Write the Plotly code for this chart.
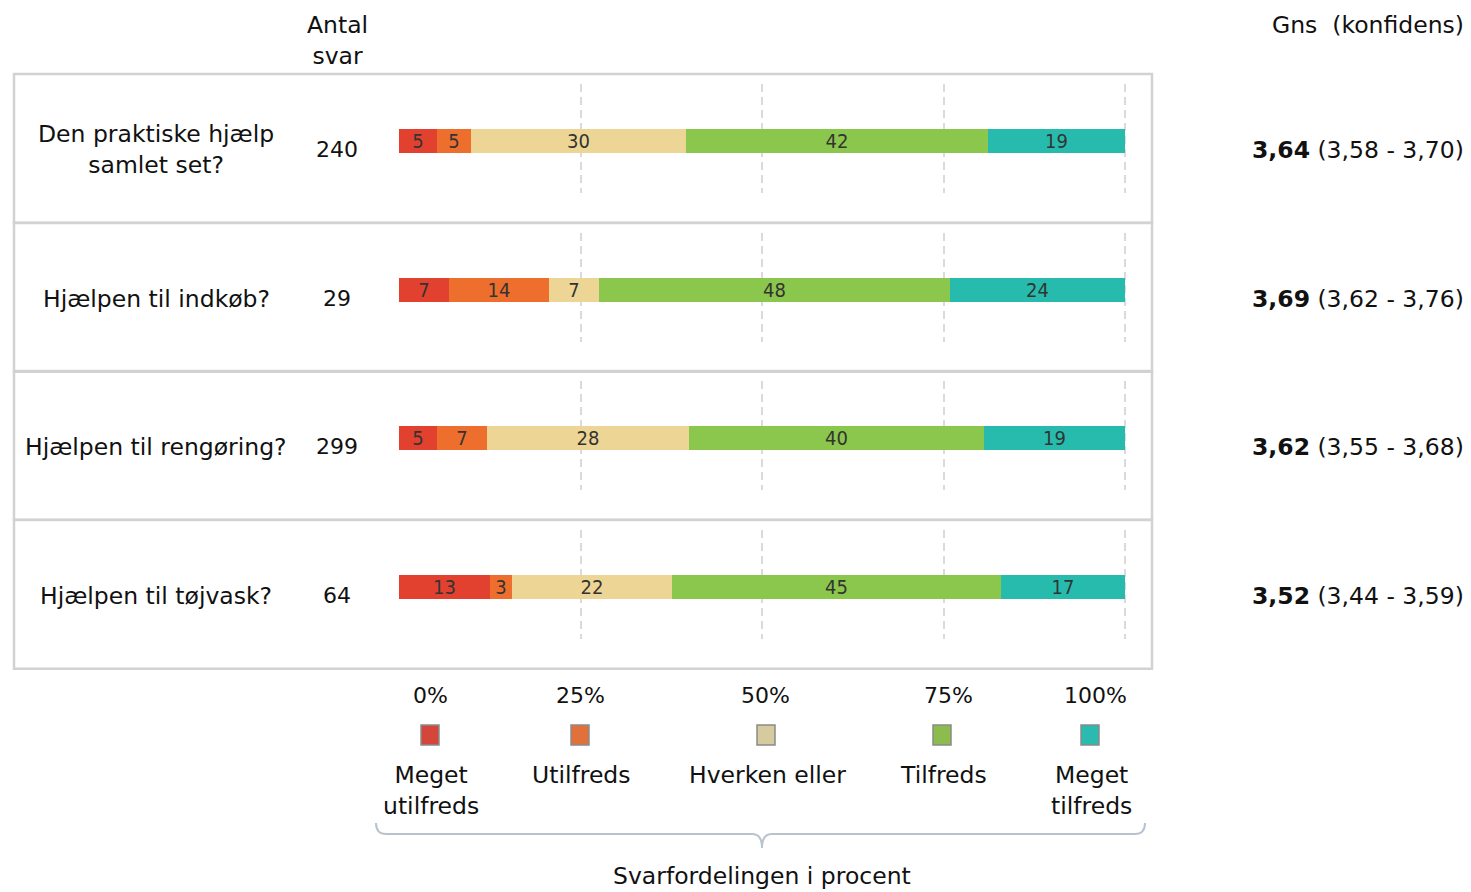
import plotly.graph_objects as go

W, H = 1471, 892

# ---------------- data ----------------
questions = ["Den praktiske hjælp<br>samlet set?", "Hjælpen til indkøb?",
             "Hjælpen til rengøring?", "Hjælpen til tøjvask?"]
antal_svar = [240, 29, 299, 64]
categories = ["Meget<br>utilfreds", "Utilfreds", "Hverken eller", "Tilfreds", "Meget<br>tilfreds"]
# percentages per category (rows = questions)
meget_utilfreds = [5.2, 6.9, 5.2, 12.6]
utilfreds = [4.7, 13.8, 6.9, 3.0]
hverken_eller = [29.6, 6.9, 27.8, 22.0]
tilfreds = [41.6, 48.3, 40.6, 45.3]
meget_tilfreds = [18.9, 24.1, 19.5, 17.1]
# rounded labels shown in the bars
lbl_meget_utilfreds = [5, 7, 5, 13]
lbl_utilfreds = [5, 14, 7, 3]
lbl_hverken_eller = [30, 7, 28, 22]
lbl_tilfreds = [42, 48, 40, 45]
lbl_meget_tilfreds = [19, 24, 19, 17]
gns = ["3,64", "3,69", "3,62", "3,52"]
konf_lo = ["3,58", "3,62", "3,55", "3,44"]
konf_hi = ["3,70", "3,76", "3,68", "3,59"]
tick_labels = ["0%", "25%", "50%", "75%", "100%"]

series = [meget_utilfreds, utilfreds, hverken_eller, tilfreds, meget_tilfreds]
labels = [lbl_meget_utilfreds, lbl_utilfreds, lbl_hverken_eller, lbl_tilfreds, lbl_meget_tilfreds]
colors = ["#E2412F", "#EE6F2D", "#EDD695", "#8BC74C", "#27BBAE"]
legend_colors = ["#D4463A", "#E0713A", "#D6CB9E", "#8CBB4E", "#2BBAB0"]

FONT = "DejaVu Sans, Verdana, sans-serif"
BARFONT = "DejaVu Sans Condensed, Liberation Sans Narrow, DejaVu Sans, sans-serif"
FS = 23.5


def px(x):
    return x / W


def py(y):
    return 1 - y / H


fig = go.Figure()
layout = dict(width=W, height=H, margin=dict(l=0, r=0, t=0, b=0),
              paper_bgcolor="white", plot_bgcolor="rgba(0,0,0,0)",
              barmode="stack", showlegend=False, bargap=0)

row_tops = [74, 223, 371, 520]
row_h = 148.75
x0_px, x100_px = 399, 1125

for r in range(len(questions)):
    ax = "" if r == 0 else str(r + 1)
    for s in range(len(series)):
        fig.add_trace(go.Bar(
            y=[0], x=[series[s][r]], orientation="h",
            marker=dict(color=colors[s], line=dict(width=0)),
            text=[str(labels[s][r])], textposition="inside",
            insidetextanchor="middle", textangle=0, constraintext="none",
            textfont=dict(family=BARFONT, size=20, color="#333333"),
            width=0.22, xaxis="x" + ax, yaxis="y" + ax, hoverinfo="skip",
        ))
    top = row_tops[r]
    g0, g1 = top + 10, top + 119
    layout["xaxis" + ax] = dict(
        domain=[px(x0_px), px(x100_px + 1.2)], range=[0, 100.15], anchor="y" + ax,
        tickvals=[25, 50, 75, 100], showticklabels=False, ticks="",
        showgrid=True, gridcolor="#DADADA", gridwidth=2, griddash="8px,5px",
        zeroline=False, showline=False, fixedrange=True)
    layout["yaxis" + ax] = dict(
        domain=[py(g1), py(g0)], range=[-0.477, 0.523], anchor="x" + ax,
        showticklabels=False, showgrid=False, zeroline=False, showline=False,
        fixedrange=True)

fig.update_layout(**layout)

shapes = []
annotations = []

# row boxes
for r in range(len(questions)):
    top = row_tops[r]
    bot = top + row_h
    shapes.append(dict(type="rect", xref="paper", yref="paper",
                       x0=px(14), x1=px(1152), y0=py(bot), y1=py(top),
                       line=dict(color="#D2D2D2", width=2.5), layer="below"))
    cy = top + row_h / 2 + 1.5
    annotations.append(dict(text=questions[r], x=px(156), y=py(cy), xref="paper", yref="paper",
                            showarrow=False, xanchor="center", yanchor="middle",
                            font=dict(family=FONT, size=FS, color="#111")))
    annotations.append(dict(text=str(antal_svar[r]), x=px(337), y=py(cy), xref="paper", yref="paper",
                            showarrow=False, xanchor="center", yanchor="middle",
                            font=dict(family=FONT, size=FS - 1.5, color="#111")))
    annotations.append(dict(text=f"<b>{gns[r]}</b> ({konf_lo[r]} - {konf_hi[r]})",
                            x=px(1466), y=py(cy), xref="paper", yref="paper",
                            showarrow=False, xanchor="right", yanchor="middle",
                            font=dict(family=FONT, size=FS, color="#111")))

# headers
annotations.append(dict(text="Antal<br>svar", x=px(337), y=py(40), xref="paper", yref="paper",
                        showarrow=False, xanchor="center", yanchor="middle",
                        font=dict(family=FONT, size=FS, color="#111")))
annotations.append(dict(text="Gns  (konfidens)", x=px(1466), y=py(25), xref="paper", yref="paper",
                        showarrow=False, xanchor="right", yanchor="middle",
                        font=dict(family=FONT, size=FS, color="#111")))

# percent labels and legend
pct_x = [430, 580, 766, 948, 1095]
leg_x = [430, 580, 766, 942, 1090]
for i in range(5):
    annotations.append(dict(text=tick_labels[i], x=px(pct_x[i]), y=py(695), xref="paper", yref="paper",
                            showarrow=False, xanchor="center", yanchor="middle",
                            font=dict(family=FONT, size=FS - 1.5, color="#111")))
    shapes.append(dict(type="rect", xref="paper", yref="paper",
                       x0=px(leg_x[i] - 9), x1=px(leg_x[i] + 9), y0=py(745), y1=py(725),
                       fillcolor=legend_colors[i], line=dict(color="#8A8A8A", width=1.5)))
    annotations.append(dict(text=categories[i], x=px(leg_x[i] + 1), y=py(759), xref="paper", yref="paper",
                            showarrow=False, xanchor="center", yanchor="top",
                            font=dict(family=FONT, size=FS, color="#111")))

# bracket
shapes.append(dict(type="path", xref="paper", yref="paper",
                   path=(f"M {px(376)},{py(823)} Q {px(376)},{py(834)} {px(386)},{py(834)} "
                         f"L {px(752)},{py(834)} Q {px(762)},{py(834)} {px(762)},{py(848)} "
                         f"Q {px(762)},{py(834)} {px(772)},{py(834)} "
                         f"L {px(1135)},{py(834)} Q {px(1145)},{py(834)} {px(1145)},{py(823)}"),
                   line=dict(color="#B9C3CE", width=2)))
annotations.append(dict(text="Svarfordelingen i procent", x=px(762), y=py(876), xref="paper", yref="paper",
                        showarrow=False, xanchor="center", yanchor="middle",
                        font=dict(family=FONT, size=FS, color="#111")))

fig.update_layout(shapes=shapes, annotations=annotations)
fig.write_html("out.html", config={"displayModeBar": False},
               post_script="document.body.style.margin='0';document.body.style.overflow='hidden';")
